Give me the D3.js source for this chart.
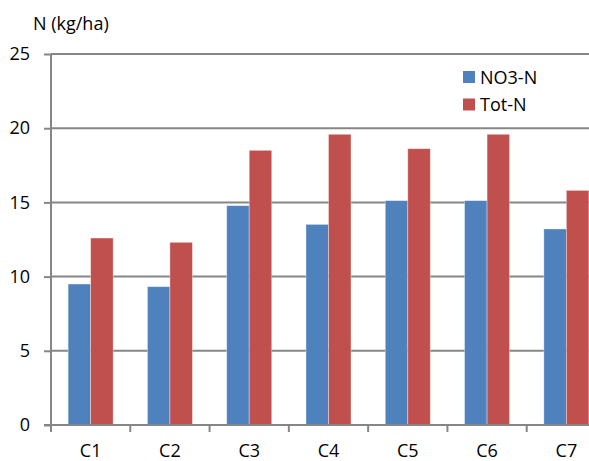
<!DOCTYPE html>
<html>
<head>
<meta charset="utf-8">
<script src="https://cdn.jsdelivr.net/npm/d3@7"></script>
<style>
  html, body { margin: 0; padding: 0; background: #fff; }
  svg { display: block; }
  text { font-family: "Open Sans", "Liberation Sans", sans-serif; fill: #000; }
</style>
</head>
<body>
<script>
// Nitrogen amounts per plot
const categories = ["C1", "C2", "C3", "C4", "C5", "C6", "C7"];
const seriesNames = ["NO3-N", "Tot-N"];
const no3N = [9.5, 9.32, 14.78, 13.52, 15.12, 15.12, 13.21];
const totN = [12.6, 12.31, 18.51, 19.59, 18.62, 19.59, 15.81];
const yTicks = [0, 5, 10, 15, 20, 25];
const yTitle = "N (kg/ha)";

const W = 589, H = 461;
const colors = ["#4F81BD", "#C0504D"];
const axisColor = "#868686";
const fontSize = 18;

const svg = d3.select("body").append("svg").attr("width", W).attr("height", H);

// plot area runs past the right edge of the figure
const plotLeft = 51, plotRight = 606, plotTop = 54, plotBottom = 425;

const x = d3.scaleBand().domain(categories).range([plotLeft, plotRight]).paddingInner(0).paddingOuter(0);
const groupWidth = x.bandwidth() * 0.568;
const xs = d3.scaleBand().domain(seriesNames).range([0, groupWidth]).padding(0);
const y = d3.scaleLinear().domain([0, 25]).range([plotBottom, plotTop]);

// horizontal gridlines
svg.append("g").selectAll("line").data(yTicks.filter(t => t > 0)).join("line")
  .attr("x1", plotLeft).attr("x2", W)
  .attr("y1", d => y(d)).attr("y2", d => y(d))
  .attr("stroke", axisColor).attr("stroke-width", 2);

// bars
const series = [no3N, totN];
const groups = svg.append("g").selectAll("g").data(categories).join("g")
  .attr("transform", c => `translate(${x(c) + (x.bandwidth() - groupWidth) / 2},0)`);
groups.selectAll("rect").data((c, i) => seriesNames.map((s, k) => ({ s, k, v: series[k][i] })))
  .join("rect")
  .attr("x", d => xs(d.s))
  .attr("width", xs.bandwidth())
  .attr("y", d => y(d.v))
  .attr("height", d => y(0) - y(d.v))
  .attr("fill", d => colors[d.k])
  .attr("stroke", "rgba(255,255,255,0.45)")
  .attr("stroke-width", 0.8);

// y axis
const yAxis = svg.append("g").attr("transform", `translate(${plotLeft},0)`)
  .call(d3.axisLeft(y).tickValues(yTicks).tickSize(7).tickPadding(14).tickFormat(d3.format("d")));
yAxis.select(".domain").attr("stroke", axisColor).attr("stroke-width", 2).attr("d", `M0,${plotBottom}V${plotTop}`);
yAxis.selectAll(".tick line").attr("stroke", axisColor).attr("stroke-width", 2);
yAxis.selectAll(".tick text").attr("font-size", fontSize).attr("font-family", "Open Sans, sans-serif").attr("fill", "#000");

// x axis
const xAxis = svg.append("g").attr("transform", `translate(0,${plotBottom})`)
  .call(d3.axisBottom(x).tickSize(0).tickPadding(19));
xAxis.select(".domain").attr("stroke", axisColor).attr("stroke-width", 2).attr("d", `M${plotLeft - 7},0H${W}`);
xAxis.selectAll(".tick text").attr("font-size", fontSize).attr("font-family", "Open Sans, sans-serif").attr("fill", "#000");
// boundary tick marks between categories
const bounds = categories.map(c => x(c)).concat([x.range()[1]]);
xAxis.append("g").selectAll("line").data(bounds).join("line")
  .attr("x1", d => d).attr("x2", d => d).attr("y1", 0).attr("y2", 7)
  .attr("stroke", axisColor).attr("stroke-width", 2);

// axis title
svg.append("text").attr("x", 33).attr("y", 30).attr("font-size", fontSize).text(yTitle);

// legend
const legend = svg.append("g").attr("transform", "translate(463,71)");
const items = legend.selectAll("g").data(seriesNames).join("g")
  .attr("transform", (d, i) => `translate(0,${i * 27.5})`);
items.append("rect").attr("width", 12).attr("height", 12).attr("fill", (d, i) => colors[i]);
items.append("text").attr("x", 17).attr("y", 12.5).attr("font-size", fontSize).text(d => d);
</script>
</body>
</html>
